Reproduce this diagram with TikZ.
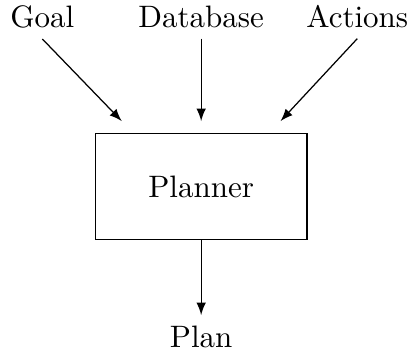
\documentclass[tikz,border=0pt]{standalone}
\usepackage{tikz}
\usetikzlibrary{arrows, positioning}

\begin{document}
\begin{tikzpicture}
    \tikzstyle{block} = [rectangle, minimum width=2.4cm, minimum height=1.2cm, text centered, draw=black]
    \tikzstyle{arrow} = [->,>=latex]

    \useasboundingbox (-2.28,-1.90) rectangle (2.39,2.115);

    \node (planner) [block] at (0,0) {Planner};
    \node (db) [above=1.07cm of planner] {Database};
    \node (goal) [anchor=base] at ([xshift=-1.8cm]db.base) {Goal};
    \node (actions) [anchor=base] at ([xshift=1.77cm]db.base) {Actions};
    \node (plan) [below=0.85cm of planner] {Plan};

    \coordinate (inL) at ([xshift=-0.9cm, yshift=0.135cm]planner.north);
    \coordinate (inC) at ([yshift=0.135cm]planner.north);
    \coordinate (inR) at ([xshift=0.9cm, yshift=0.135cm]planner.north);

    \draw [arrow] (goal.south) -- (inL);
    \draw [arrow] (db) -- (inC);
    \draw [arrow] (actions.south) -- (inR);
    \draw [arrow] (planner) -- (plan);

\end{tikzpicture}
\end{document}
